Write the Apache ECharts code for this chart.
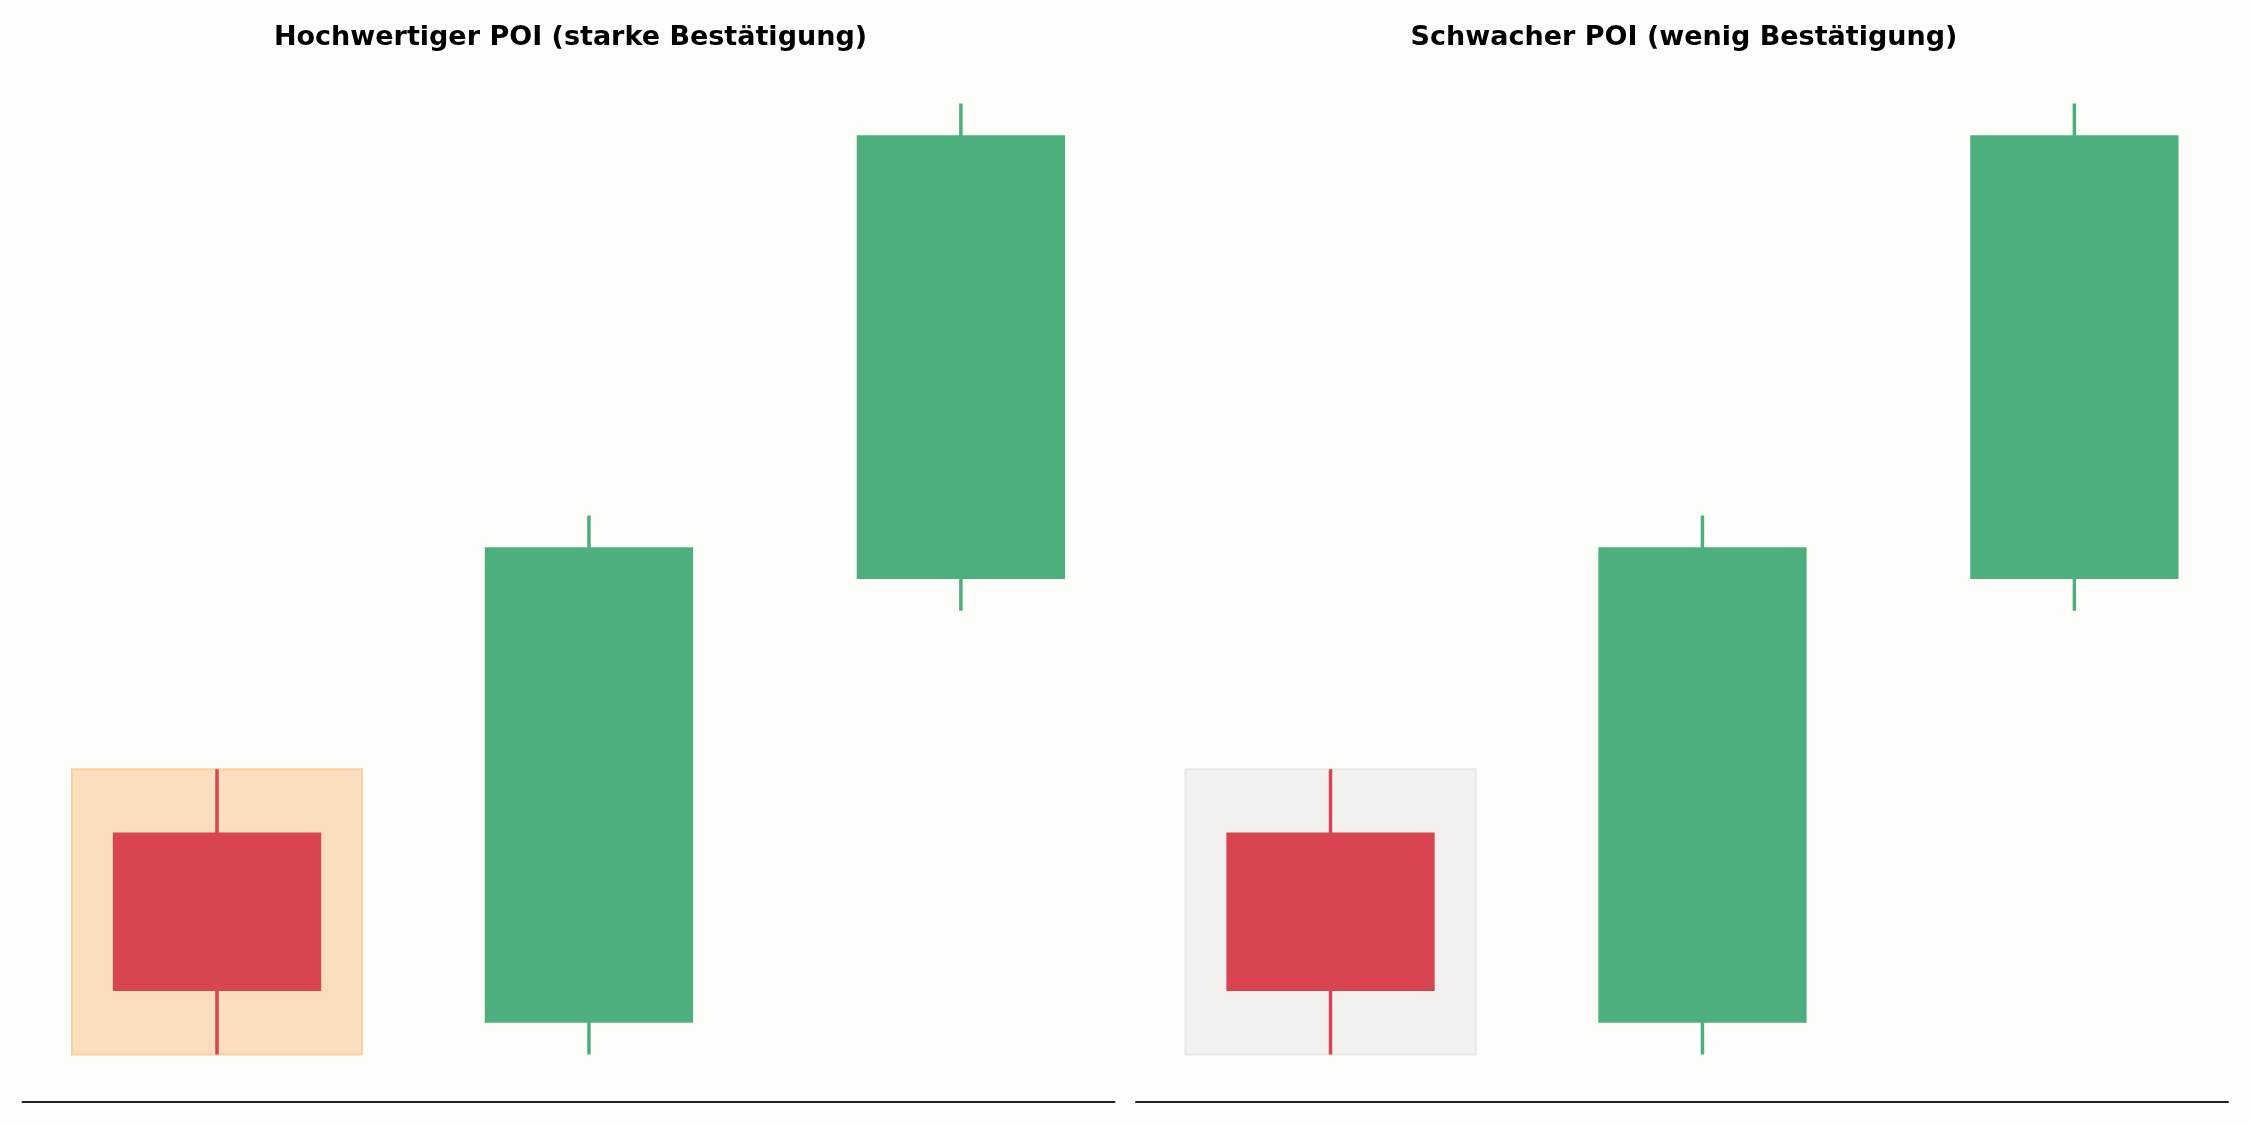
<!DOCTYPE html>
<html><head><meta charset="utf-8">
<script src="https://cdn.jsdelivr.net/npm/echarts@6/dist/echarts.min.js"></script>
<style>html,body{margin:0;padding:0;background:#FDFDF9}#c{width:2250px;height:1125px}</style>
</head><body><div id="c"></div>
<script>
// Data
const candleIndex = [0, 1, 2];
const opens  = [107, 101, 115];
const closes = [102, 116, 129];
const lows   = [100, 100, 114];
const highs  = [109, 117, 130];
const panelTitles = ['Hochwertiger POI (starke Bestätigung)', 'Schwacher POI (wenig Bestätigung)'];
const zoneCandle = 0; // POI zone around the first candle

const UP = '#4EAF7E', DOWN = '#D84551';
const zoneStyles = [
  {fill: '#FADEBD', stroke: '#F9D1A2'},
  {fill: '#F2F1EF', stroke: '#E8E7E4'}
];
const BODY_W = 0.56, ZONE_HALF = 0.39;

const candleData = candleIndex.map((x, i) => [x, opens[i], closes[i], lows[i], highs[i]]);
const zoneData = [[candleIndex[zoneCandle], lows[zoneCandle], highs[zoneCandle]]];

const chart = echarts.init(document.getElementById('c'));
const grids = [
  {left: 22.5, width: 1092, top: 56, height: 1046},
  {left: 1136, width: 1092, top: 56, height: 1046}
];
const xAxes = [], yAxes = [], series = [], titles = [];
grids.forEach((g, k) => {
  xAxes.push({type: 'value', gridIndex: k, min: -0.523, max: 2.413, splitLine: {show: false},
    axisTick: {show: false}, axisLabel: {show: false},
    axisLine: {show: true, onZero: false, lineStyle: {color: '#222', width: 2}}});
  yAxes.push({type: 'value', gridIndex: k, min: 98.5, max: 131.5, show: false, splitLine: {show: false}});
  titles.push({text: panelTitles[k], left: g.left + g.width / 2 - 3, top: 19, textAlign: 'center',
    textStyle: {fontFamily: 'DejaVu Sans', fontWeight: 'bold', fontSize: 27, color: '#000'}});
  const zs = zoneStyles[k];
  series.push({type: 'custom', xAxisIndex: k, yAxisIndex: k, data: zoneData, silent: true, z: 1,
    renderItem: (params, api) => {
      const p0 = api.coord([api.value(0) - ZONE_HALF, api.value(2)]);
      const p1 = api.coord([api.value(0) + ZONE_HALF, api.value(1)]);
      return {type: 'rect', shape: {x: p0[0], y: p0[1], width: p1[0] - p0[0], height: p1[1] - p0[1]},
        style: {fill: zs.fill, stroke: zs.stroke, lineWidth: 2}};
    }});
  series.push({type: 'custom', xAxisIndex: k, yAxisIndex: k, data: candleData, silent: true, z: 2,
    renderItem: (params, api) => {
      const x = api.value(0), o = api.value(1), c = api.value(2), lo = api.value(3), hi = api.value(4);
      const col = c >= o ? UP : DOWN;
      const top = api.coord([x, hi]), bot = api.coord([x, lo]);
      const b0 = api.coord([x - BODY_W / 2, Math.max(o, c)]);
      const b1 = api.coord([x + BODY_W / 2, Math.min(o, c)]);
      return {type: 'group', children: [
        {type: 'line', shape: {x1: top[0], y1: top[1], x2: bot[0], y2: bot[1]}, style: {stroke: col, lineWidth: 3.5}},
        {type: 'rect', shape: {x: b0[0], y: b0[1], width: b1[0] - b0[0], height: b1[1] - b0[1]}, style: {fill: col}}
      ]};
    }});
});
chart.setOption({backgroundColor: '#FDFDF9', animation: false, title: titles, grid: grids,
  xAxis: xAxes, yAxis: yAxes, series: series});
</script></body></html>
